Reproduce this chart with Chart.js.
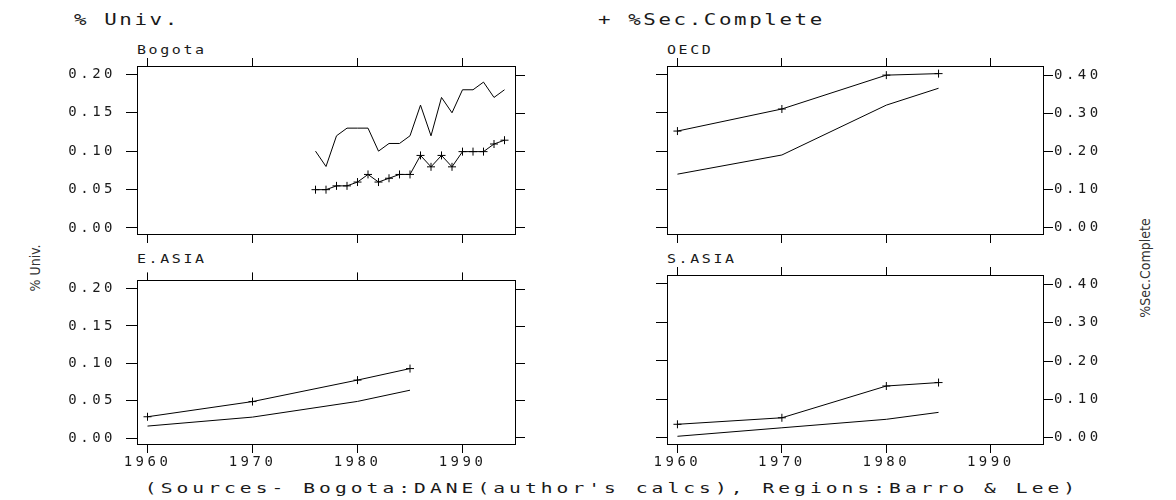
<!DOCTYPE html>
<html>
<head>
<meta charset="utf-8">
<script src="https://cdn.jsdelivr.net/npm/chart.js@4.4.1/dist/chart.umd.min.js"></script>
<style>
  html, body { margin: 0; padding: 0; background: #fff; }
  body { width: 1176px; height: 500px; position: relative; overflow: hidden;
         font-family: "DejaVu Sans Mono", monospace; color: #1a1a1a; }
  .txt { position: absolute; white-space: pre; line-height: 1; transform-origin: 0 0; }
  .rot { position: absolute; white-space: pre; line-height: 1; font-family: "DejaVu Sans Condensed", "Liberation Sans Narrow", sans-serif;
         font-stretch: condensed; font-size: 14px; color: #333; transform: translate(-50%, -50%) rotate(-90deg); }
  .title { font-size: 16px; letter-spacing: 2px; transform: scaleX(1.3); }
  .ptitle { font-size: 11.5px; letter-spacing: 2px; transform: scaleX(1.3); }
  .panel { position: absolute; }
</style>
</head>
<body>
<div class="txt title" style="left:74px; top:12px">% Univ.</div>
<div class="txt title" style="left:598px; top:12px">+ %Sec.Complete</div>
<div class="txt ptitle" style="left:137px; top:45px">Bogota</div>
<div class="txt ptitle" style="left:667px; top:45px">OECD</div>
<div class="txt ptitle" style="left:137px; top:254px">E.ASIA</div>
<div class="txt ptitle" style="left:667px; top:254px">S.ASIA</div>
<div class="rot" style="left:35px; top:268px">% Univ.</div>
<div class="rot" style="left:1145px; top:268px">%Sec.Complete</div>
<div class="txt" style="left:612px; top:481px; font-size:14.5px; letter-spacing:3px; transform-origin:50% 0; transform:translateX(-50%) scaleX(1.35)">(Sources- Bogota:DANE(author's calcs), Regions:Barro &amp; Lee)</div>

<div class="panel" style="left:20px; top:40px"><canvas id="p1" width="540" height="222"></canvas></div>
<div class="panel" style="left:580px; top:40px"><canvas id="p2" width="540" height="222"></canvas></div>
<div class="panel" style="left:20px; top:262px"><canvas id="p3" width="540" height="210"></canvas></div>
<div class="panel" style="left:580px; top:262px"><canvas id="p4" width="540" height="210"></canvas></div>

<script>
// Bogota: yearly series
const bogotaYears = [1976, 1977, 1978, 1979, 1980, 1981, 1982, 1983, 1984, 1985, 1986, 1987, 1988, 1989, 1990, 1991, 1992, 1993, 1994];
const bogotaUniv = [0.10, 0.08, 0.12, 0.13, 0.13, 0.13, 0.10, 0.11, 0.11, 0.12, 0.16, 0.12, 0.17, 0.15, 0.18, 0.18, 0.19, 0.17, 0.18];
const bogotaSec = [0.10, 0.10, 0.11, 0.11, 0.12, 0.14, 0.12, 0.13, 0.14, 0.14, 0.19, 0.16, 0.19, 0.16, 0.20, 0.20, 0.20, 0.22, 0.23];
// regions (Barro & Lee)
const regionYears = [1960, 1970, 1980, 1985];
const oecdUniv = [0.070, 0.095, 0.160, 0.182];
const oecdSec = [0.254, 0.312, 0.401, 0.405];
const eAsiaUniv = [0.016, 0.028, 0.049, 0.064];
const eAsiaSec = [0.057, 0.098, 0.156, 0.187];
const sAsiaUniv = [0.002, 0.013, 0.024, 0.033];
const sAsiaSec = [0.035, 0.052, 0.135, 0.144];
// tick labels
const yearTicks = [1960, 1970, 1980, 1990];
const univTicks = [0, 0.05, 0.10, 0.15, 0.20];
const secTicks = [0, 0.10, 0.20, 0.30, 0.40];

const tickFont = { family: "DejaVu Sans Mono", size: 14 };

// canvas text in the reference is very wide, so space the letters out
const spacing = {
  id: 'spacing',
  beforeDraw(chart) { chart.ctx.letterSpacing = '3.5px'; }
};

function axis(pos, min, max, ticks, size, tickLen, showLabels, pad) {
  const horiz = pos == 'top' || pos == 'bottom';
  return {
    type: 'linear', position: pos, min: min, max: max,
    afterBuildTicks: s => { s.ticks = ticks.map(v => ({ value: v })); },
    afterFit: s => { if (horiz) s.height = size; else s.width = size; },
    grid: { drawOnChartArea: false, drawTicks: true, tickLength: tickLen, color: '#000', tickColor: '#000', lineWidth: 1 },
    border: { display: true, color: '#000', width: 1 },
    ticks: {
      display: showLabels, font: tickFont, color: '#1a1a1a', padding: pad,
      maxRotation: 0, minRotation: 0, autoSkip: false,
      callback: v => horiz ? String(v) : v.toFixed(2)
    }
  };
}

function panel(id, years, univ, sec, side, bottomRow) {
  const top = bottomRow ? 13 : 26;
  const wl = side == 'left' ? 117 : 87;
  const wr = side == 'left' ? 45 : 77;
  new Chart(document.getElementById(id), {
    type: 'line',
    data: {
      datasets: [
        { label: '% Univ.', data: years.map((y, i) => ({ x: y, y: univ[i] })), yAxisID: 'y', xAxisID: 'x',
          borderColor: '#000', borderWidth: 1, pointRadius: 0, tension: 0, fill: false },
        { label: '%Sec.Complete', data: years.map((y, i) => ({ x: y, y: sec[i] })), yAxisID: 'y2', xAxisID: 'x',
          borderColor: '#000', borderWidth: 1, pointStyle: 'cross', pointRadius: 4, pointBorderWidth: 1,
          pointBorderColor: '#000', tension: 0, fill: false }
      ]
    },
    options: {
      responsive: false, animation: false, events: [],
      layout: { padding: 0 },
      plugins: { legend: { display: false }, tooltip: { enabled: false } },
      scales: {
        x: axis('bottom', 1959, 1995, yearTicks, 28, 9, bottomRow, 1),
        x2: axis('top', 1959, 1995, yearTicks, top, 8, false, 0),
        y: axis('left', -0.008, 0.211, univTicks, wl, 11, side == 'left', 10),
        y2: axis('right', -0.0165, 0.425, secTicks, wr, 10, side == 'right', 1)
      }
    },
    plugins: [spacing]
  });
}

panel('p1', bogotaYears, bogotaUniv, bogotaSec, 'left', false);
panel('p2', regionYears, oecdUniv, oecdSec, 'right', false);
panel('p3', regionYears, eAsiaUniv, eAsiaSec, 'left', true);
panel('p4', regionYears, sAsiaUniv, sAsiaSec, 'right', true);
</script>
</body>
</html>
